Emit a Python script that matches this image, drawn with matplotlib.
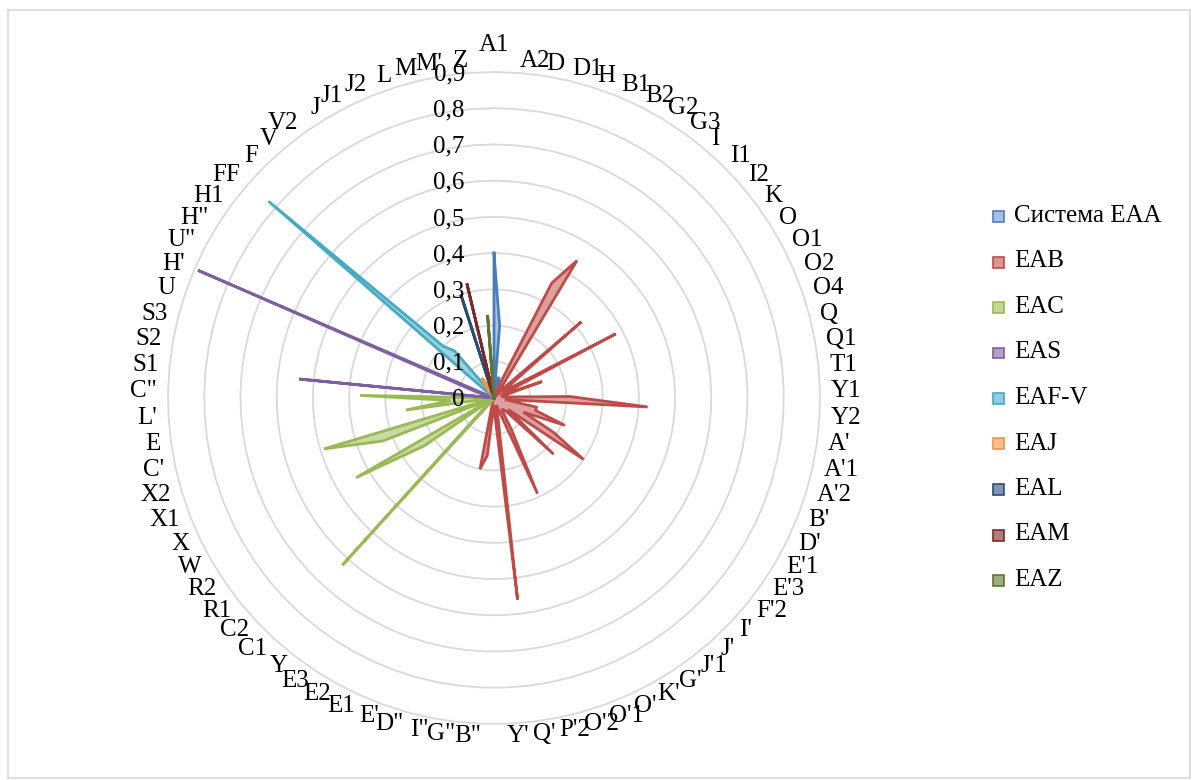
import numpy as np
import matplotlib
matplotlib.use("Agg")
import matplotlib.pyplot as plt
from matplotlib.patches import Rectangle

plt.rcParams['font.family'] = ['Liberation Serif', 'DejaVu Serif']

categories = ["A1", "A2", "D", "D1", "H", "B1", "B2", "G2", "G3", "I",
              "I1", "I2", "K", "O", "O1", "O2", "O4", "Q", "Q1", "T1",
              "Y1", "Y2", "A'", "A'1", "A'2", "B'", "D'", "E'1", "E'3", "F'2",
              "I'", "J'", "J'1", "G'", "K'", "O'", "O'1", "O'2", "P'2", "Q'",
              "Y'", 'B"', 'G"', 'I"', 'D"', "E'", "E1", "E2", "E3", "Y",
              "C1", "C2", "R1", "R2", "W", "X", "X1", "X2", "C'", "E",
              "L'", 'C"', "S1", "S2", "S3", "U", "H'", 'U"', 'H"', "H1",
              "FF", "F", "V", "V2", "J", "J1", "J2", "L", "M", "M'", "Z"]

series_names = ["Система EAA", "EAB", "EAC", "EAS", "EAF-V", "EAJ", "EAL", "EAM", "EAZ"]

eaa = [0.40, 0.20, 0, 0.06, 0, 0, 0, 0, 0, 0,
       0, 0, 0, 0, 0, 0, 0, 0, 0, 0,
       0, 0, 0, 0, 0, 0, 0, 0, 0, 0,
       0, 0, 0, 0, 0, 0, 0, 0, 0, 0,
       0, 0, 0, 0, 0, 0, 0, 0, 0, 0,
       0, 0, 0, 0, 0, 0, 0, 0, 0, 0,
       0, 0, 0, 0, 0, 0, 0, 0, 0, 0,
       0, 0, 0, 0, 0, 0, 0, 0, 0, 0, 0]

eab = [0, 0, 0, 0, 0, 0.04, 0.355, 0.443, 0.03, 0,
       0.04, 0.32, 0.03, 0.05, 0.38, 0.02, 0.14, 0.03, 0.02, 0.03,
       0.21, 0.425, 0.03, 0.12, 0.12, 0.21, 0.09, 0.19, 0.30, 0.05,
       0.226, 0.05, 0.04, 0.04, 0.10, 0.29, 0.03, 0.02, 0.06, 0.56,
       0.04, 0.02, 0.16, 0.20, 0.02, 0, 0, 0, 0, 0,
       0, 0, 0, 0, 0, 0, 0, 0, 0, 0,
       0, 0, 0, 0, 0, 0, 0, 0, 0, 0,
       0, 0, 0, 0, 0, 0, 0, 0, 0, 0, 0]

eac = [0, 0, 0, 0, 0, 0, 0, 0, 0, 0,
       0, 0, 0, 0, 0, 0, 0, 0, 0, 0,
       0, 0, 0, 0, 0, 0, 0, 0, 0, 0,
       0, 0, 0, 0, 0, 0, 0, 0, 0, 0,
       0, 0, 0, 0, 0, 0, 0, 0, 0, 0.02,
       0.623, 0.02, 0, 0.234, 0.44, 0, 0.33, 0.49, 0, 0.245,
       0.12, 0.37, 0, 0, 0, 0, 0, 0, 0, 0,
       0, 0, 0, 0, 0, 0, 0, 0, 0, 0, 0]

eas = [0, 0, 0, 0, 0, 0, 0, 0, 0, 0,
       0, 0, 0, 0, 0, 0, 0, 0, 0, 0,
       0, 0, 0, 0, 0, 0, 0, 0, 0, 0,
       0, 0, 0, 0, 0, 0, 0, 0, 0, 0,
       0, 0, 0, 0, 0, 0, 0, 0, 0, 0,
       0, 0, 0, 0, 0, 0, 0, 0, 0, 0,
       0, 0, 0.54, 0, 0, 0.05, 0.89, 0, 0, 0,
       0, 0, 0, 0, 0, 0, 0, 0, 0, 0, 0]

eaf_v = [0, 0, 0, 0, 0, 0, 0, 0, 0, 0,
         0, 0, 0, 0, 0, 0, 0, 0, 0, 0,
         0, 0, 0, 0, 0, 0, 0, 0, 0, 0,
         0, 0, 0, 0, 0, 0, 0, 0, 0, 0,
         0, 0, 0, 0, 0, 0, 0, 0, 0, 0,
         0, 0, 0, 0, 0, 0, 0, 0, 0, 0,
         0, 0, 0, 0, 0, 0, 0, 0, 0, 0,
         0.826, 0.20, 0.17, 0.03, 0, 0, 0, 0, 0, 0, 0]

eaj = [0, 0, 0, 0, 0, 0, 0, 0, 0, 0,
       0, 0, 0, 0, 0, 0, 0, 0, 0, 0,
       0, 0, 0, 0, 0, 0, 0, 0, 0, 0,
       0, 0, 0, 0, 0, 0, 0, 0, 0, 0,
       0, 0, 0, 0, 0, 0, 0, 0, 0, 0,
       0, 0, 0, 0, 0, 0, 0, 0, 0, 0,
       0, 0, 0, 0, 0, 0, 0, 0, 0, 0,
       0, 0, 0, 0.04, 0.065, 0.04, 0, 0, 0, 0, 0]

eal = [0, 0, 0, 0, 0, 0, 0, 0, 0, 0,
       0, 0, 0, 0, 0, 0, 0, 0, 0, 0,
       0, 0, 0, 0, 0, 0, 0, 0, 0, 0,
       0, 0, 0, 0, 0, 0, 0, 0, 0, 0,
       0, 0, 0, 0, 0, 0, 0, 0, 0, 0,
       0, 0, 0, 0, 0, 0, 0, 0, 0, 0,
       0, 0, 0, 0, 0, 0, 0, 0, 0, 0,
       0, 0, 0, 0, 0, 0, 0, 0.30, 0, 0, 0]

eam = [0, 0, 0, 0, 0, 0, 0, 0, 0, 0,
       0, 0, 0, 0, 0, 0, 0, 0, 0, 0,
       0, 0, 0, 0, 0, 0, 0, 0, 0, 0,
       0, 0, 0, 0, 0, 0, 0, 0, 0, 0,
       0, 0, 0, 0, 0, 0, 0, 0, 0, 0,
       0, 0, 0, 0, 0, 0, 0, 0, 0, 0,
       0, 0, 0, 0, 0, 0, 0, 0, 0, 0,
       0, 0, 0, 0, 0, 0, 0, 0, 0.325, 0, 0]

eaz = [0, 0, 0, 0, 0, 0, 0, 0, 0, 0,
       0, 0, 0, 0, 0, 0, 0, 0, 0, 0,
       0, 0, 0, 0, 0, 0, 0, 0, 0, 0,
       0, 0, 0, 0, 0, 0, 0, 0, 0, 0,
       0, 0, 0, 0, 0, 0, 0, 0, 0, 0,
       0, 0, 0, 0, 0, 0, 0, 0, 0, 0,
       0, 0, 0, 0, 0, 0, 0, 0, 0, 0,
       0, 0, 0, 0, 0, 0, 0, 0, 0, 0, 0.23]

radial_ticks = [0, 0.1, 0.2, 0.3, 0.4, 0.5, 0.6, 0.7, 0.8, 0.9]

series_values = [eaa, eab, eac, eas, eaf_v, eaj, eal, eam, eaz]
line_colors = ["#4A7EBB", "#BE4B48", "#98B954", "#7D60A0", "#46AAC5",
               "#F69240", "#2C4D75", "#772C2A", "#5F7530"]
fill_colors = ["#A7C0DE", "#D99694", "#C3D69B", "#B3A2C7", "#93CDDD",
               "#FAC090", "#7F95B2", "#B07D7C", "#9DAD7E"]

W, H = 1192, 780
fig = plt.figure(figsize=(W / 100, H / 100), dpi=100)
fig.patch.set_facecolor("white")

# chart area border
fig.patches.append(Rectangle((8 / W, 2 / H), (W - 10) / W, (H - 12) / H,
                             transform=fig.transFigure, fill=False,
                             edgecolor="#D9D9D9", linewidth=1.2))

cx, cy, R = 494, 398, 326
ax = fig.add_axes([(cx - R) / W, (H - cy - R) / H, 2 * R / W, 2 * R / H],
                  projection="polar")
ax.set_theta_zero_location("N")
ax.set_theta_direction(-1)
ax.set_ylim(0, 0.9)
ax.grid(False)
ax.set_xticks([])
ax.set_yticks([])
ax.spines["polar"].set_visible(False)
ax.patch.set_alpha(0)

n = len(categories)
theta = np.linspace(0, 2 * np.pi, n, endpoint=False)
theta_c = np.append(theta, theta[0])

# polygon gridlines
for r in radial_ticks[1:]:
    ax.plot(theta_c, [r] * (n + 1), color="#D9D9D9", lw=1.3, zorder=1, clip_on=False)

# series
for i, (vals, lc, fc) in enumerate(zip(series_values, line_colors, fill_colors)):
    v = np.append(np.array(vals, float), vals[0])
    ax.fill(theta_c, v, color=fc, alpha=0.9, zorder=2 + i, lw=0)
    ax.plot(theta_c, v, color=lc, lw=2.0, zorder=2 + i, solid_joinstyle="miter")

FS = 18
# radial tick labels
for r in radial_ticks:
    lab = "0" if r == 0 else f"{r:.1f}".replace(".", ",")
    ax.annotate(lab, xy=(0, r), xytext=(-21, -1.5), textcoords="offset points",
                ha="right", va="center", fontsize=FS, color="black", zorder=20)

# category labels
gh, gv, hh = 8.0, 2.5, 6.5
for t, lab in zip(theta, categories):
    s, c = np.sin(t), np.cos(t)
    if abs(s) < 1e-9:
        ha = "center"
        dy = 13.0 + hh
    else:
        ha = "left" if s > 0 else "right"
        dy = (gv + hh) * c
    dx = gh * s
    ax.annotate(lab, xy=(t, 0.9), xytext=(dx, dy), textcoords="offset points",
                ha=ha, va="center", fontsize=FS, color="black",
                annotation_clip=False)

# legend
for i, (name, lc, fc) in enumerate(zip(series_names, line_colors, fill_colors)):
    yc = 216 + 45.5 * i
    fig.patches.append(Rectangle((993 / W, 1 - (yc + 6) / H), 11 / W, 11 / H,
                                 transform=fig.transFigure, facecolor=fc,
                                 edgecolor=lc, linewidth=1.2))
    fig.text(1014 / W, 1 - yc / H, name, fontsize=FS, ha="left", va="center")

fig.savefig("out.png", dpi=100, facecolor="white")
